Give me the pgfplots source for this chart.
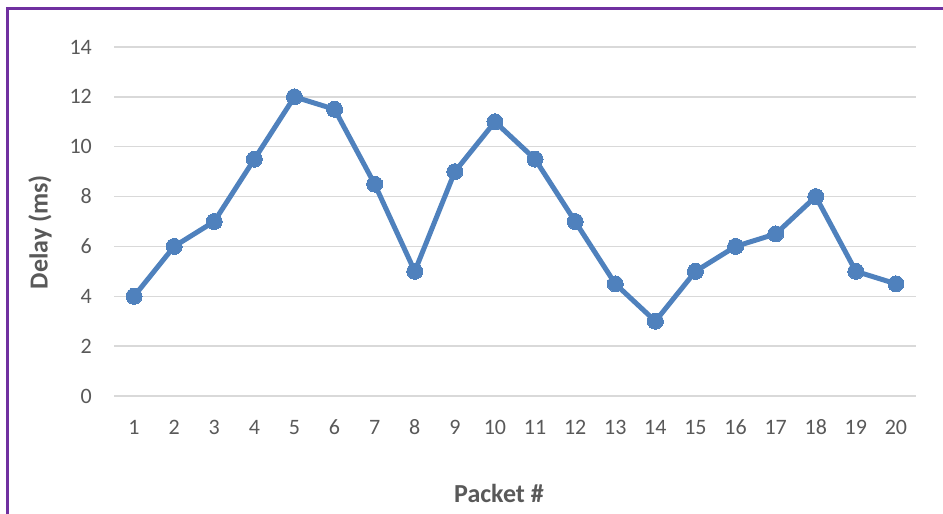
\documentclass[border=0pt]{standalone}
\usepackage{pgfplots}
\pgfplotsset{compat=1.18}
\usepackage{fontspec}
\setmainfont{Carlito}

\definecolor{lineblue}{HTML}{4F81BD}
\definecolor{gridgray}{HTML}{D9D9D9}
\definecolor{textgray}{HTML}{595959}
\definecolor{framepurple}{HTML}{7030A0}

\begin{document}
\begin{tikzpicture}[x=1bp,y=1bp]
\useasboundingbox (0,0) rectangle (943,514);
% outer chart frame (left and top edges)
\draw[framepurple, line width=2.5bp] (7.5,0) -- (7.5,505.5) -- (943,505.5);
\begin{axis}[
  at={(114bp,118bp)}, anchor=south west,
  scale only axis, width=802bp, height=349bp,
  xmin=0.5, xmax=20.5, ymin=0, ymax=14,
  xtick={1,...,20}, ytick={0,2,...,14},
  axis line style={draw=none},
  major tick length=0pt,
  ymajorgrids, major grid style={gridgray, line width=1.5bp},
  /pgf/number format/assume math mode=true,
  tick label style={font=\fontsize{22bp}{26bp}\selectfont, text=textgray},
  yticklabel style={anchor=east, inner sep=0pt, xshift=-22bp},
  xticklabel style={anchor=base, inner sep=0pt, yshift=-39bp},
  xlabel={Packet \#}, ylabel={Delay (ms)},
  label style={font=\fontsize{26bp}{30bp}\selectfont\bfseries, text=textgray},
  xlabel style={at={(axis description cs:0.48,0)}, anchor=center, yshift=-97bp},
  ylabel style={at={(axis description cs:-0.0923,0.47)}, anchor=center},
  clip=false,
]
\addplot[lineblue, line width=5bp, line join=round, mark=*, mark size=8bp,
  mark options={fill=lineblue, draw=lineblue, line width=0pt}]
  coordinates {
    (1,4) (2,6) (3,7) (4,9.5) (5,12) (6,11.5) (7,8.5) (8,5) (9,9) (10,11)
    (11,9.5) (12,7) (13,4.5) (14,3) (15,5) (16,6) (17,6.5) (18,8) (19,5) (20,4.5)
  };
\end{axis}
\end{tikzpicture}
\end{document}
